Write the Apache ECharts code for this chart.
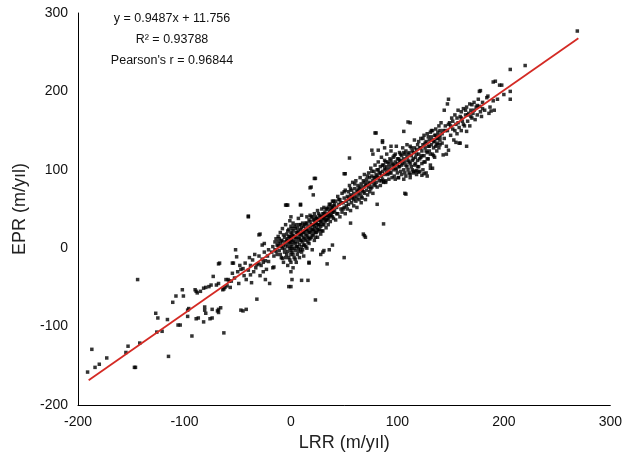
<!DOCTYPE html>
<html><head><meta charset="utf-8">
<script src="https://cdn.jsdelivr.net/npm/echarts@6/dist/echarts.min.js"></script>
<style>html,body{margin:0;padding:0;background:#fff}#c{width:625px;height:473px}</style>
</head><body><div id="c"></div>
<script>
const xTicks = [-200, -100, 0, 100, 200, 300];
const yTicks = [-200, -100, 0, 100, 200, 300];
const slope = 0.9487, intercept = 11.756;
const fitX = [-190, 270];
const statLines = ["y = 0.9487x + 11.756", "R\u00b2 = 0.93788", "Pearson's r = 0.96844"];

const ptsLow = [[-191,-158],[-187,-129],[-184,-152],[-180,-148],[-173,-140],[-155,-133],[-153,-125],[-147,-152],[-146,-152],[-144,-40],[-142,-121],[-127,-83],[-125,-89],[-126,-107],[-121,-106],[-116,-91],[-115,-138],[-111,-69],[-108,-61],[-106,-98],[-104,-98],[-102,-53],[-101,-61],[-97,-79],[-96,-77],[-97,-87],[-93,-112],[-89,-55],[-88,-57],[-89,-90],[-87,-89],[-90,-53],[-85,-55],[-82,-51],[-81,-79],[-81,-75],[-80,-83],[-82,-94],[-80,-50],[-77,-49],[-75,-47],[-76,-90],[-74,-89],[-73,-36],[-74,-78],[-69,-80],[-68,-82],[-68,-20],[-67,-19],[-70,-47],[-68,-45],[-64,-53],[-62,-50],[-60,-48],[-63,-108],[-61,-40],[-59,-40],[-68,-78],[-66,-76],[-63,-52]];

const ptsMidLow = [[-58,-42],[-56,-42],[-55,-19],[-54,-19],[-55,-32],[-52,-2],[-51,-11],[-47,-79],[-45,-80],[-42,-78],[-47,-27],[-45,-26],[-43,-19],[-40,40],[-38,-34],[-32,-21],[-30,-20],[-32,-65],[-30,17],[-27,4],[-25,6],[-24,-16],[-21,-17],[-21,-2],[-20,-45],[-50,-30],[-48,-22],[-44,-35],[-40,-28],[-38,-22],[-36,-15],[-35,-30],[-34,-8],[-33,-25],[-30,-10],[-28,-22],[-27,-14],[-26,-30],[-25,-5],[-23,-27],[-22,-10],[-57,-50],[-53,-38],[-49,-45],[-42,-40],[-39,-12],[-37,-44],[-29,-35],[-26,-18],[-24,-40]];

const ptsCore = [[-18,-5],[-17,2],[-16,-10],[-15,8],[-15,-2],[-14,12],[-13,-8],[-12,3],[-12,15],[-11,-3],[-10,6],[-10,20],[-9,-12],[-9,10],[-8,0],[-8,25],[-7,4],[-7,-18],[-6,14],[-6,-5],[-5,8],[-5,30],[-4,-8],[-4,18],[-3,2],[-3,12],[-3,-22],[-2,6],[-2,24],[-2,-12],[-1,0],[-1,15],[-1,35],[0,-30],[0,-18],[0,-8],[0,2],[0,8],[0,14],[0,20],[0,28],[0,40],[1,-40],[1,-5],[1,5],[1,18],[2,-25],[2,10],[2,22],[2,32],[3,-12],[3,0],[3,15],[4,6],[4,25],[4,-3],[5,12],[5,-18],[5,30],[5,2],[6,8],[6,20],[6,-8],[7,14],[7,38],[7,0],[8,18],[8,5],[8,-12],[9,24],[9,10],[9,30],[10,2],[10,16],[10,-5],[10,42],[11,20],[11,8],[12,28],[12,14],[12,-10],[13,22],[13,4],[14,32],[14,18],[14,10],[15,24],[15,0],[15,40],[16,14],[16,28],[17,20],[17,6],[18,34],[18,26],[18,12],[19,22],[19,40],[20,30],[20,16],[20,-2],[21,36],[21,24],[22,28],[22,10],[22,44],[23,32],[23,20],[24,38],[24,26],[25,30],[25,14],[25,48],[26,36],[26,22],[27,42],[27,30],[28,34],[28,18],[29,40],[29,50],[30,30],[30,44],[30,22],[31,38],[31,52],[32,34],[32,46],[33,26],[33,42],[34,50],[34,36],[35,44],[35,30],[36,56],[36,40],[37,48],[37,34],[38,52],[38,42],[39,60],[39,46],[40,38],[40,54],
[-17,-25],[-16,-24],[-12,8],[-8,-13],[-4,55],[-5,55],[0,-49],[-2,-49],[9,56],[9,55],[10,-41],[16,-41],[17,-19],[17,-18],[23,-66],[30,-5],[34,-20],[39,4],[31,-3],[28,-8],[36,-2],[-29,18],[-40,41],[18,77],[19,78],[21,68],[22,89],[23,89],[-3,55]];

const ptsCore2 = [[-14,-4],[-13,4],[-11,12],[-10,-8],[-9,2],[-8,9],[-7,17],[-6,-1],[-5,-12],[-5,4],[-4,10],[-3,-4],[-3,22],[-2,15],[-1,-15],[-1,8],[0,-3],[0,11],[1,25],[1,0],[2,-8],[2,16],[3,8],[3,28],[4,14],[4,-14],[5,20],[6,2],[6,26],[7,-4],[7,22],[8,12],[8,30],[9,-2],[9,18],[10,10],[10,26],[11,-2],[11,32],[12,20],[12,4],[13,12],[13,30],[14,2],[14,24],[15,16],[15,32],[16,8],[16,22],[17,36],[17,12],[18,20],[18,42],[19,30],[19,14],[20,24],[20,40],[21,18],[21,30],[22,22],[22,36],[23,14],[23,40],[24,20],[24,32],[25,38],[25,24],[26,30],[26,44],[27,24],[27,36],[28,40],[28,28],[29,34],[29,22],[30,38],[31,30],[31,44],[32,40],[33,36],[33,50],[34,42],[35,38],[35,52],[36,46],[37,42],[37,56],[38,48],[39,40],[39,52],[40,46],[40,60]];

const ptsMid = [[41,48],[42,60],[42,36],[43,52],[44,44],[44,66],[45,56],[46,40],[46,62],[47,50],[48,70],[48,46],[49,58],[50,52],[50,64],[51,74],[51,44],[52,60],[53,66],[53,50],[54,72],[54,56],[55,62],[55,80],[56,48],[56,68],[57,58],[57,74],[58,64],[58,84],[59,54],[59,70],[60,66],[60,76],[61,60],[61,86],[62,72],[62,52],[63,68],[63,80],[64,62],[64,76],[65,90],[65,70],[66,58],[66,82],[67,74],[67,64],[68,86],[68,78],[69,70],[69,94],[70,80],[70,62],[71,88],[71,74],[72,84],[72,68],[73,96],[73,78],[74,90],[74,72],[75,84],[75,102],[76,78],[76,92],[77,86],[77,70],[78,98],[78,82],[79,90],[79,106],[80,84],[80,94],[81,78],[81,100],[82,90],[82,110],[83,86],[83,96],[84,104],[84,80],[85,92],[85,116],[86,98],[86,88],[87,106],[87,84],[88,94],[88,112],[89,100],[89,86],[90,104],[90,120],[91,94],[91,110],[92,100],[92,88],[93,114],[93,104],[94,96],[94,124],[95,108],[95,90],[96,116],[96,100],[97,106],[97,92],[98,120],[98,110],[99,100],[99,130],[100,108],[100,96],[101,114],[101,90],[102,104],[102,122],[103,98],[103,112],[104,118],[104,94],[105,108],[105,128],[106,100],[106,114],[107,96],[107,120],[108,106],[108,92],[109,116],[109,132],[110,100],[110,112],[111,96],[111,122],[112,108],[112,94],[113,118],[113,128],[114,100],[114,112],[115,96],[115,122],[116,106],[116,138],[117,98],[117,116],[118,126],[118,94],[119,112],[119,132],[120,104],[120,120],[121,128],[121,98],[122,116],[122,140],[123,108],[123,124],[124,132],[124,100],[125,118],[125,144],[126,128],[126,110],[127,136],[127,96],[128,122],[128,146],[129,130],[129,114],[130,138],[130,124],[131,148],[131,106],[132,132],[132,142],[133,120],[133,150],[134,136],[134,128],[135,144],[135,116],[136,152],[136,130],[137,140],[137,124],[138,148],[138,134],[139,156],[139,128],[140,142],[140,150],
[79,147],[55,115],[51,95],[50,95],[77,120],[82,125],[88,128],[94,130],[110,161],[112,160],[106,149],[80,147],[86,137],[86,135],[76,125],[108,69],[107,70],[101,90],[98,88],[89,84],[87,85],[81,56],[87,31],[69,16],[68,18],[70,14],[56,32],[50,-12],[131,102],[118,99],[120,97],[115,98],[123,93],[133,102],[125,95],[128,92],[112,90],[106,88]];

const ptsMid2 = [[41,56],[43,44],[45,62],[47,58],[49,50],[50,72],[52,54],[54,64],[56,76],[57,66],[59,62],[60,82],[62,64],[63,74],[65,78],[66,66],[68,72],[69,84],[71,80],[72,92],[74,82],[75,76],[76,98],[78,90],[79,80],[81,92],[82,100],[84,96],[85,86],[86,106],[88,102],[89,110],[90,96],[92,108],[93,96],[94,112],[96,106],[97,118],[98,102],[100,114],[101,104],[102,112],[103,120],[104,106],[106,122],[107,110],[108,124],[109,104],[110,120],[111,110],[112,130],[113,104],[114,124],[115,114],[116,128],[117,108],[118,120],[119,104],[120,136],[121,114],[122,128],[123,118],[124,140],[125,110],[126,134],[127,124],[128,114],[129,142],[130,130],[131,120],[132,150],[133,138],[134,118],[135,136],[136,144],[137,132],[138,140],[139,144],[140,132]];

const ptsHigh = [[141,160],[142,134],[143,150],[144,176],[144,140],[145,156],[146,130],[147,184],[147,150],[148,190],[148,125],[149,160],[150,144],[151,166],[152,152],[153,138],[154,170],[155,158],[156,166],[156,146],[157,176],[158,134],[158,154],[159,168],[160,174],[160,150],[161,162],[162,178],[163,156],[164,170],[165,149],[165,180],[166,162],[167,172],[168,184],[168,156],[169,176],[170,183],[170,166],[171,172],[172,186],[173,164],[174,180],[175,170],[176,190],[177,181],[177,200],[178,174],[178,201],[179,168],[180,186],[182,176],[184,192],[185,194],[186,172],[187,180],[188,175],[190,188],[190,212],[191,176],[192,213],[194,190],[196,208],[198,208],[200,196],[206,228],[206,200],[206,190],[220,233],[269,277],[155,135],[159,134],[165,130],[146,120],[143,119],[140,138],
[142,146],[145,150],[148,158],[150,156],[152,162],[154,150],[157,160],[160,166],[162,158],[164,176],[166,170],[169,168],[172,176],[175,182],[180,178]];

const points = [].concat(ptsLow, ptsMidLow, ptsCore, ptsCore2, ptsMid, ptsMid2, ptsHigh);
const fitLine = fitX.map(x => [x, slope * x + intercept]);

const chart = echarts.init(document.getElementById('c'), null, {renderer: 'canvas'});
const font = 'Liberation Sans, Arial, sans-serif';
chart.setOption({
  animation: false,
  backgroundColor: '#fff',
  grid: {left: 78, right: 13, top: 13, bottom: 68},
  xAxis: {
    type: 'value', min: xTicks[0], max: xTicks[xTicks.length-1], interval: 100,
    name: 'LRR (m/y\u0131l)', nameLocation: 'middle', nameGap: 29,
    nameTextStyle: {fontFamily: font, fontSize: 18, color: '#222'},
    axisLine: {show: true, onZero: false, lineStyle: {color: '#000', width: 1}},
    axisTick: {show: false},
    splitLine: {show: false},
    axisLabel: {fontFamily: font, fontSize: 14, color: '#111', margin: 10}
  },
  yAxis: {
    type: 'value', min: yTicks[0], max: yTicks[yTicks.length-1], interval: 100,
    name: 'EPR (m/y\u0131l)', nameLocation: 'middle', nameGap: 40,
    nameTextStyle: {fontFamily: font, fontSize: 18, color: '#222'},
    axisLine: {show: true, onZero: false, lineStyle: {color: '#000', width: 1}},
    axisTick: {show: false},
    splitLine: {show: false},
    axisLabel: {fontFamily: font, fontSize: 14, color: '#111', margin: 10}
  },
  graphic: statLines.map((t, i) => ({
    type: 'text', x: 172, y: 12 + i * 21,
    style: {text: t, fontFamily: font, fontSize: 12.5, fill: '#111', textAlign: 'center'}
  })),
  series: [
    {type: 'scatter', data: points, symbol: 'rect', symbolSize: 3.5,
     itemStyle: {color: '#000'}, silent: true},
    {type: 'line', data: fitLine, symbol: 'none', lineStyle: {color: '#d42a24', width: 1.8}, silent: true, z: 5}
  ]
});
</script></body></html>
